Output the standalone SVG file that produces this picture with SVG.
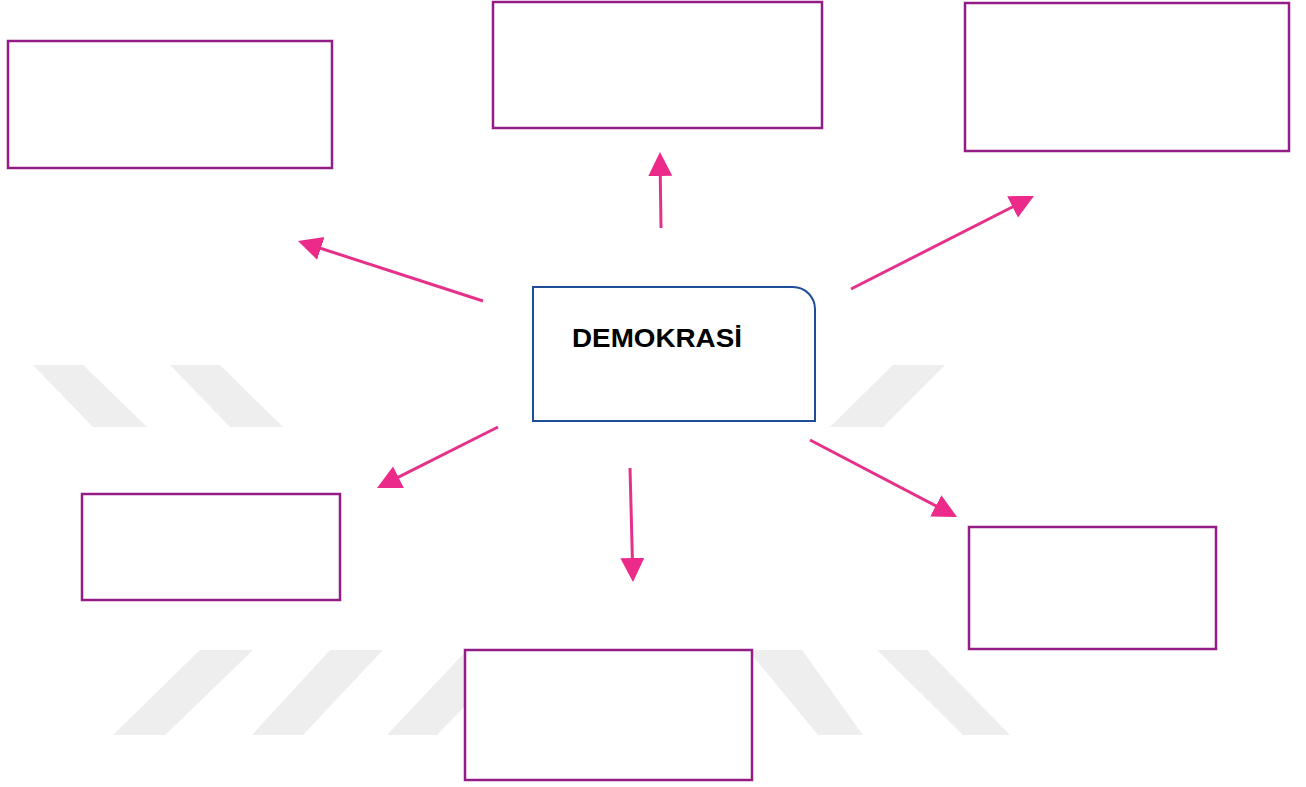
<svg xmlns="http://www.w3.org/2000/svg" width="1306" height="787" viewBox="0 0 1306 787">
<style>
.stripe{fill:#eeeeee}
.box{fill:#ffffff;stroke:#931c86;stroke-width:2.5}
.conn{stroke:#e6318a;stroke-width:3;fill:none;marker-end:url(#ah)}
.center{fill:#ffffff;stroke:#1f4e99;stroke-width:2}
.label{font-family:"Liberation Sans",Arial,sans-serif;font-weight:bold;font-size:26px;fill:#000}
</style>
<defs>
<marker id="ah" markerUnits="userSpaceOnUse" markerWidth="26" markerHeight="26" refX="20" refY="12" orient="auto">
<path d="M0,0 L24,12 L0,24 z" fill="#ec2a8a"/>
</marker>
</defs>
<rect width="1306" height="787" fill="#ffffff"/>
<g id="watermark">
<polygon class="stripe" points="33,365 83,365 147,427 93,427"/>
<polygon class="stripe" points="170,365 220,365 283,427 230,427"/>
<polygon class="stripe" points="893,365 945,365 883,427 830,427"/>
<polygon class="stripe" points="200,650 253,650 165,735 113,735"/>
<polygon class="stripe" points="330,650 383,650 303,735 252,735"/>
<polygon class="stripe" points="467,650 520,650 437,735 387,735"/>
<polygon class="stripe" points="748,650 802,650 863,735 818,735"/>
<polygon class="stripe" points="877,650 927,650 1010,735 963,735"/>
</g>
<g id="connectors">
<line class="conn" x1="661" y1="228" x2="660" y2="156"/>
<line class="conn" x1="483" y1="301" x2="301.8" y2="242.2"/>
<line class="conn" x1="851" y1="289" x2="1030.4" y2="197.8"/>
<line class="conn" x1="498" y1="427" x2="380.6" y2="486.2"/>
<line class="conn" x1="630" y1="468" x2="632.9" y2="578"/>
<line class="conn" x1="810" y1="440" x2="953.5" y2="515.1"/>
</g>
<g id="node-center">
<path class="center" d="M533,287 H793 A22,22 0 0 1 815,309 V421 H533 Z"/>
<text class="label" x="572" y="347" textLength="170" lengthAdjust="spacingAndGlyphs">DEMOKRASİ</text>
</g>
<g id="node-top-left"><rect class="box" x="8" y="41" width="324" height="127"/></g>
<g id="node-top-center"><rect class="box" x="493" y="2" width="329" height="126"/></g>
<g id="node-top-right"><rect class="box" x="965" y="3" width="324" height="148"/></g>
<g id="node-bottom-left"><rect class="box" x="82" y="494" width="258" height="106"/></g>
<g id="node-bottom-center"><rect class="box" x="465" y="650" width="287" height="130"/></g>
<g id="node-bottom-right"><rect class="box" x="969" y="527" width="247" height="122"/></g>
</svg>
